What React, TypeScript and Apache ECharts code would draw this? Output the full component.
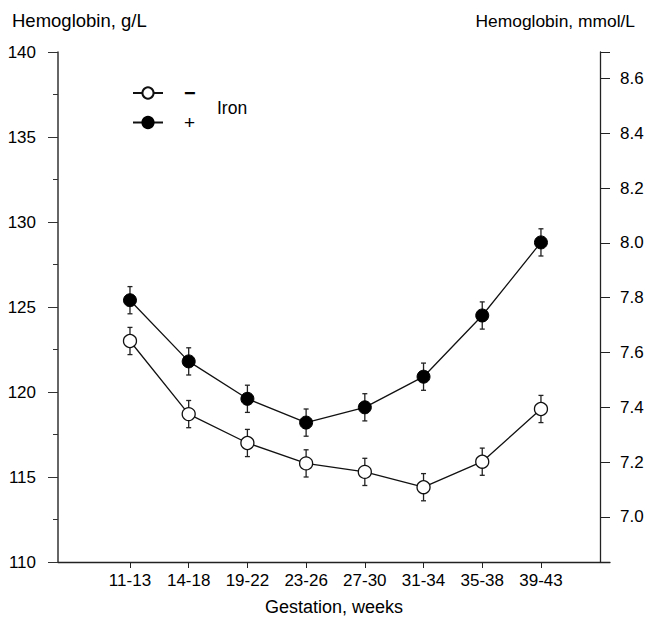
import React, { useEffect, useRef } from "react";
import * as echarts from "echarts";

const categories = ["11-13", "14-18", "19-22", "23-26", "27-30", "31-34", "35-38", "39-43"];
const ironMinus = [123.0, 118.7, 117.0, 115.8, 115.3, 114.4, 115.9, 119.0];
const ironPlus = [125.4, 121.8, 119.6, 118.2, 119.1, 120.9, 124.5, 128.8];
const errMinus = [0.8, 0.8, 0.8, 0.8, 0.8, 0.8, 0.8, 0.8];
const errPlus = [0.8, 0.8, 0.8, 0.8, 0.8, 0.8, 0.8, 0.8];
const rightTickLabels = [7.0, 7.2, 7.4, 7.6, 7.8, 8.0, 8.2, 8.4, 8.6];
const G_PER_MMOL = 16.1145;

const FONT = "'Liberation Sans', Arial, sans-serif";

export default function App() {
  const ref = useRef<HTMLDivElement>(null);
  useEffect(() => {
    if (!ref.current) return;
    const chart = echarts.init(ref.current, undefined, { renderer: "svg" });
    const rMin = 6.835;
    const rMax = rMin + 30 / G_PER_MMOL;
    const idx = categories.map((_, i) => i);

    const errData = (vals: number[], errs: number[]) =>
      vals.map((v, i) => [i, v - errs[i], v + errs[i]]);

    const renderErr = (params: any, api: any) => {
      const x = api.value(0);
      const lo = api.coord([x, api.value(1)]);
      const hi = api.coord([x, api.value(2)]);
      const cw = 2.5;
      const st = { stroke: "#222", lineWidth: 1.3 };
      return {
        type: "group",
        children: [
          { type: "line", shape: { x1: lo[0], y1: lo[1], x2: hi[0], y2: hi[1] }, style: st },
          { type: "line", shape: { x1: lo[0] - cw, y1: lo[1], x2: lo[0] + cw, y2: lo[1] }, style: st },
          { type: "line", shape: { x1: hi[0] - cw, y1: hi[1], x2: hi[0] + cw, y2: hi[1] }, style: st },
        ],
      };
    };

    chart.setOption({
      animation: false,
      textStyle: { fontFamily: FONT },
      grid: { left: 58, right: 37, top: 52, bottom: 60, containLabel: false },
      legend: {
        data: ["\u2212", "+"],
        orient: "vertical",
        left: 132,
        top: 83,
        padding: 0,
        itemWidth: 30,
        itemHeight: 14,
        itemGap: 10,
        textStyle: {
          fontSize: 17,
          color: "#000",
          fontFamily: FONT,
          padding: [0, 0, 0, 16],
          rich: {
            b: { fontSize: 20, fontWeight: "bold", color: "#000", fontFamily: FONT },
            n: { fontSize: 19, color: "#000", fontFamily: FONT },
          },
        },
        formatter: (n: string) => (n === "+" ? "{n|+}" : "{b|\u2212}"),
      },
      graphic: [
        { type: "text", left: 12, top: 11, style: { text: "Hemoglobin, g/L", fontSize: 18.5, fill: "#000", fontFamily: FONT } },
        { type: "text", right: 12, top: 12, style: { text: "Hemoglobin, mmol/L", fontSize: 17.4, fill: "#000", fontFamily: FONT } },
        { type: "text", left: 217, top: 99, style: { text: "Iron", fontSize: 17.5, fill: "#000", fontFamily: FONT } },
      ],
      xAxis: {
        type: "value",
        min: -1.226,
        max: 8.176,
        name: "Gestation, weeks",
        nameLocation: "middle",
        nameGap: 36,
        nameTextStyle: { fontSize: 18, color: "#000", fontFamily: FONT },
        axisLine: { onZero: false, lineStyle: { color: "#222", width: 1.3 } },
        axisTick: { show: true, length: 6, customValues: idx, lineStyle: { color: "#222" } },
        axisLabel: {
          customValues: idx,
          margin: 10,
          fontSize: 17,
          color: "#000",
          fontFamily: FONT,
          formatter: (v: number) => categories[Math.round(v)] ?? "",
        },
        splitLine: { show: false },
      },
      yAxis: [
        {
          type: "value",
          min: 110,
          max: 140,
          interval: 5,
          position: "left",
          axisLine: { show: true, onZero: false, lineStyle: { color: "#333", width: 1.5 } },
          axisTick: { show: true, length: 10, lineStyle: { color: "#333" } },
          minorTick: { show: true, splitNumber: 2, length: 5, lineStyle: { color: "#333" } },
          axisLabel: { margin: 22, fontSize: 17, color: "#000", fontFamily: FONT },
          splitLine: { show: false },
          minorSplitLine: { show: false },
        },
        {
          type: "value",
          min: rMin,
          max: rMax,
          position: "right",
          offset: -10,
          axisLine: { show: true, onZero: false, lineStyle: { color: "#222", width: 1.3 } },
          axisTick: { show: true, length: 10, customValues: [...rightTickLabels, rMax], lineStyle: { color: "#222" } },
          axisLabel: {
            customValues: rightTickLabels,
            margin: 20,
            fontSize: 17,
            color: "#000",
            fontFamily: FONT,
            formatter: (v: number) => v.toFixed(1),
          },
          splitLine: { show: false },
        },
      ],
      series: [
        {
          name: "errMinus",
          type: "custom",
          renderItem: renderErr,
          encode: { x: 0, y: [1, 2] },
          data: errData(ironMinus, errMinus),
          z: 1,
        },
        {
          name: "errPlus",
          type: "custom",
          renderItem: renderErr,
          encode: { x: 0, y: [1, 2] },
          data: errData(ironPlus, errPlus),
          z: 1,
        },
        {
          name: "\u2212",
          type: "line",
          data: ironMinus.map((v, i) => [i, v]),
          symbol: "circle",
          symbolSize: 13,
          lineStyle: { color: "#111", width: 1.3 },
          itemStyle: { color: "#fff", borderColor: "#111", borderWidth: 1.3 },
          z: 3,
        },
        {
          name: "+",
          type: "line",
          data: ironPlus.map((v, i) => [i, v]),
          symbol: "circle",
          symbolSize: 13,
          lineStyle: { color: "#111", width: 1.3 },
          itemStyle: { color: "#000", borderColor: "#000", borderWidth: 1 },
          z: 3,
        },
      ],
    });
    return () => chart.dispose();
  }, []);
  return (
    <div
      ref={ref}
      style={{ position: "absolute", left: 0, top: 0, width: 647, height: 622 }}
    />
  );
}
